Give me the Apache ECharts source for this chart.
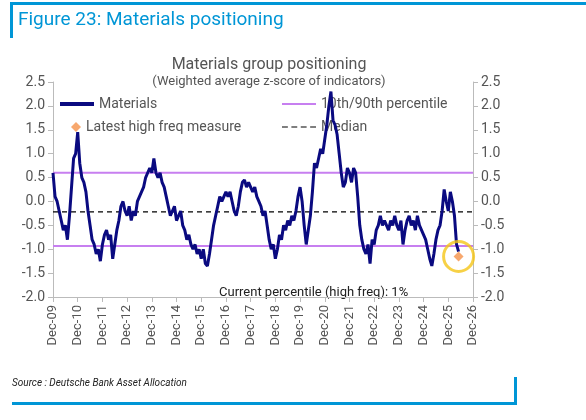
<!DOCTYPE html>
<html>
<head>
<meta charset="utf-8">
<script src="https://cdn.jsdelivr.net/npm/echarts@6/dist/echarts.min.js"></script>
<style>html,body{margin:0;padding:0;background:#fff}#chart{width:586px;height:420px}</style>
</head>
<body>
<div id="chart"></div>
<script>
// monthly values from Dec-09
var materials = [
    0.6, 0.1, 0.0, -0.2, -0.4, -0.6, -0.5, -0.8, -0.3, 0.3, 0.9, 1.0,
    1.45, 0.8, 0.5, 0.4, 0.2, -0.2, -0.5, -0.8, -0.9, -1.1, -1.0, -1.25,
    -0.9, -0.7, -0.6, -0.8, -0.7, -1.2, -0.9, -0.6, -0.4, -0.1, 0.0, -0.2,
    -0.3, -0.1, -0.4, -0.2, -0.3, 0.0, 0.1, 0.2, 0.3, 0.5, 0.6, 0.7,
    0.6, 0.9, 0.6, 0.5, 0.6, 0.4, 0.3, 0.1, -0.1, -0.3, -0.2, -0.1,
    -0.4, -0.3, -0.2, -0.5, -0.6, -0.8, -0.7, -0.9, -1.0, -0.9, -1.1, -1.0,
    -1.2, -1.0, -1.3, -1.35, -1.1, -0.8, -0.5, -0.3, -0.1, 0.1, 0.0, 0.1,
    0.2, 0.1, 0.2, 0.0, -0.2, -0.3, -0.1, 0.2, 0.4, 0.45, 0.3, 0.4,
    0.3, 0.2, 0.3, 0.1, 0.0, -0.1, -0.3, -0.2, -0.5, -0.8, -1.0, -0.9,
    -1.2, -1.0, -0.7, -0.8, -0.5, -0.6, -0.4, -0.5, -0.3, -0.4, -0.2, 0.1,
    0.3, 0.0, -0.5, -0.9, -0.6, -0.3, 0.2, 0.8, 0.7, 0.9, 1.1, 1.0,
    1.3, 1.6, 2.0, 2.3, 1.7, 1.6, 1.4, 1.0, 0.6, 0.3, 0.4, 0.7,
    0.6, 0.4, 0.7, 0.6, 0.1, -0.5, -0.8, -1.0, -1.1, -0.9, -1.3, -0.8,
    -0.9, -0.6, -0.5, -0.3, -0.5, -0.4, -0.5, -0.6, -0.4, -0.5, -0.3, -0.5,
    -0.6, -0.4, -0.9, -0.6, -0.4, -0.3, -0.5, -0.4, -0.6, -0.3, -0.5, -0.6,
    -0.7, -0.8, -1.0, -1.2, -1.35, -1.1, -0.8, -0.6, -0.5, -0.2, 0.25, 0.0,
    -0.2, 0.2, 0.0, -0.3, -0.9, -1.05
];
var latestHighFreq = -1.15;
var pct90 = 0.6;
var pct10 = -0.93;
var median = -0.22;
var monthNames = ['Jan','Feb','Mar','Apr','May','Jun','Jul','Aug','Sep','Oct','Nov','Dec'];

var categories = [];
for (var i = 0; i <= 204; i++) {
    var mi = (11 + i) % 12;
    var yr = 9 + Math.floor((11 + i) / 12);
    categories.push(monthNames[mi] + '-' + (yr < 10 ? '0' + yr : yr));
}
var last = materials.length - 1;
function flat(v) { return categories.map(function () { return v; }); }
var diamond = categories.map(function (c, i) { return i === last ? latestHighFreq : null; });

var chart = echarts.init(document.getElementById('chart'));
var font = 'Roboto, "Liberation Sans", sans-serif';
var isDec = function (i) { return i % 12 === 0; };
var yAxisBase = {
    type: 'value', min: -2, max: 2.5, interval: 0.5,
    axisLine: { show: true, lineStyle: { color: '#bbb' } },
    axisTick: { show: true, lineStyle: { color: '#bbb' } },
    splitLine: { show: false },
    axisLabel: { color: '#555', fontSize: 14, fontFamily: font, formatter: function (v) { return v.toFixed(1); } }
};
var legendText = { color: '#555', fontSize: 14, fontFamily: font };
chart.setOption({
    animation: false,
    title: {
        text: 'Materials group positioning',
        subtext: '(Weighted average z-score of indicators)',
        left: 264, textAlign: 'center', top: 52, itemGap: 2,
        textStyle: { color: '#555', fontSize: 16, fontWeight: 'normal', fontFamily: font },
        subtextStyle: { color: '#555', fontSize: 13, fontFamily: font }
    },
    legend: [
        { data: [{ name: 'Materials', icon: 'rect' }], left: 55, top: 92, itemWidth: 34, itemHeight: 4, textStyle: legendText },
        { data: [{ name: 'Latest high freq measure', icon: 'diamond' }], left: 66, top: 115, itemWidth: 10, itemHeight: 10, textStyle: legendText },
        { data: [{ name: '10th/90th percentile', icon: 'rect' }], left: 277, top: 92, itemWidth: 34, itemHeight: 2, textStyle: legendText },
        { data: [{ name: 'Median', icon: 'path://M0,0h5v1h-5zM8,0h5v1h-5zM16,0h5v1h-5zM24,0h5v1h-5z' }], left: 277, top: 115, itemWidth: 34, itemHeight: 1.5, textStyle: legendText }
    ],
    grid: { left: 53, right: 113, top: 82, bottom: 123 },
    xAxis: {
        type: 'category', data: categories, boundaryGap: false,
        axisLine: { show: true, onZero: false, lineStyle: { color: '#bbb' } },
        axisTick: { show: true, interval: isDec, lineStyle: { color: '#bbb' } },
        axisLabel: { interval: isDec, rotate: 90, color: '#555', fontSize: 13, fontFamily: font }
    },
    yAxis: [yAxisBase, Object.assign({}, yAxisBase, { position: 'right' })],
    series: [
        { name: '10th/90th percentile', type: 'line', data: flat(pct90), symbol: 'none', lineStyle: { color: '#c77ff0', width: 2 }, itemStyle: { color: '#c77ff0' } },
        { name: '10th/90th percentile', type: 'line', data: flat(pct10), symbol: 'none', lineStyle: { color: '#c77ff0', width: 2 } },
        { name: 'Median', type: 'line', data: flat(median), symbol: 'none', lineStyle: { color: '#000', width: 1.2, type: [5, 4] }, itemStyle: { color: '#000' } },
        { name: 'Materials', type: 'line', data: materials, symbol: 'none', lineStyle: { color: '#0a0a80', width: 3 }, itemStyle: { color: '#0a0a80' }, z: 5 },
        { name: 'Latest high freq measure', type: 'scatter', data: diamond, symbol: 'diamond', symbolSize: 10, itemStyle: { color: '#f5924a' }, z: 6 },
        { type: 'scatter', data: diamond, symbol: 'circle', symbolSize: 30, silent: true,
          itemStyle: { color: 'rgba(0,0,0,0)', borderColor: '#f5c518', borderWidth: 3 }, z: 7 }
    ],
    graphic: [
        { type: 'rect', shape: { x: 10, y: 2, width: 576, height: 3 }, style: { fill: '#0096d6' } },
        { type: 'rect', shape: { x: 10, y: 2, width: 3, height: 36 }, style: { fill: '#0096d6' } },
        { type: 'text', left: 18, top: 11, style: { text: 'Figure 23: Materials positioning', fill: '#0096d6', fontSize: 19, fontFamily: font } },
        { type: 'text', left: 219, top: 286, style: { text: 'Current percentile (high freq): 1%', fill: '#222', fontSize: 13, fontFamily: font } },
        { type: 'text', left: 12, top: 378, style: { text: 'Source : Deutsche Bank Asset Allocation', fill: '#222', fontSize: 10, fontStyle: 'italic', fontFamily: font } },
        { type: 'rect', shape: { x: 12, y: 402, width: 505, height: 3 }, style: { fill: '#0096d6' } },
        { type: 'rect', shape: { x: 514, y: 377, width: 3, height: 28 }, style: { fill: '#0096d6' } }
    ]
});
</script>
</body>
</html>
